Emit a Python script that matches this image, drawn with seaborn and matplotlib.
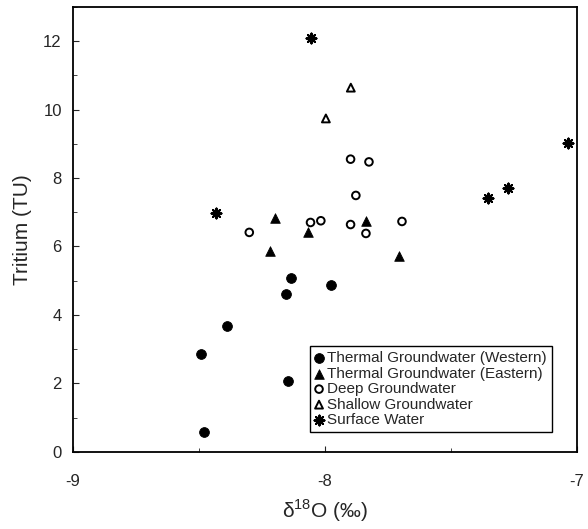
import matplotlib
matplotlib.use("Agg")
import matplotlib.pyplot as plt
from matplotlib.ticker import MultipleLocator
import seaborn as sns
import pandas as pd

# d18O (permil) and tritium (TU) for each water group
west_x = [-8.49, -8.48, -8.39, -8.156, -8.136, -8.148, -7.977]
west_y = [2.87, 0.58, 3.67, 4.60, 5.07, 2.06, 4.87]

east_x = [-8.196, -8.217, -8.066, -7.835, -7.706]
east_y = [6.82, 5.86, 6.41, 6.75, 5.73]

deep_x = [-8.30, -8.057, -8.016, -7.898, -7.837, -7.694, -7.877, -7.898, -7.825]
deep_y = [6.41, 6.70, 6.75, 6.64, 6.38, 6.73, 7.49, 8.55, 8.47]

shallow_x = [-7.897, -7.996]
shallow_y = [10.64, 9.74]

surface_x = [-8.434, -8.056, -7.352, -7.275, -7.036]
surface_y = [6.97, 12.08, 7.41, 7.70, 9.03]

groups = ["Thermal Groundwater (Western)", "Thermal Groundwater (Eastern)",
          "Deep Groundwater", "Shallow Groundwater", "Surface Water"]

frames = []
for name, xs, ys in zip(groups, [west_x, east_x, deep_x, shallow_x, surface_x],
                        [west_y, east_y, deep_y, shallow_y, surface_y]):
    frames.append(pd.DataFrame({"d18O": xs, "tritium": ys, "group": name}))
df = pd.concat(frames, ignore_index=True)

sns.set_style("ticks")
plt.rcParams["font.family"] = ["Liberation Sans", "DejaVu Sans"]
plt.rcParams["mathtext.fontset"] = "custom"
plt.rcParams["mathtext.rm"] = "Liberation Sans"
plt.rcParams["axes.unicode_minus"] = False

fig = plt.figure(figsize=(5.88, 5.29), dpi=100)
ax = fig.add_axes([0.124, 0.146, 0.857, 0.841])

styles = {
    groups[0]: dict(marker="o", s=50, color="black", edgecolor="black"),
    groups[1]: dict(marker="^", s=48, color="black", edgecolor="black"),
    groups[2]: dict(marker="o", s=30, facecolor="none", edgecolor="black", linewidth=1.4),
    groups[3]: dict(marker="^", s=32, facecolor="none", edgecolor="black", linewidth=1.4),
    groups[4]: dict(marker=(8, 2, 0), s=50, color="black", linewidth=1.5),
}
for name in groups:
    sns.scatterplot(data=df[df["group"] == name], x="d18O", y="tritium",
                    ax=ax, label=name, **styles[name])

ax.set_xlim(-9, -7)
ax.set_ylim(0, 13)
ax.xaxis.set_major_locator(MultipleLocator(1))
ax.xaxis.set_minor_locator(MultipleLocator(0.5))
ax.yaxis.set_major_locator(MultipleLocator(2))
ax.yaxis.set_minor_locator(MultipleLocator(1))
ax.tick_params(axis="both", which="major", direction="in", length=4, width=0.8,
               labelsize=12)
ax.tick_params(axis="y", which="major", pad=8)
ax.tick_params(axis="x", which="major", pad=16)
ax.tick_params(axis="both", which="minor", direction="in", length=3, width=0.6)
for sp in ax.spines.values():
    sp.set_linewidth(1.3)
    sp.set_color("black")

ax.set_xlabel("δ$^{\\mathregular{18}}$O (‰)", fontsize=15, labelpad=6)
ax.set_ylabel("Tritium (TU)", fontsize=15, labelpad=8)

leg = ax.legend(loc="lower right", bbox_to_anchor=(0.95, 0.045), fontsize=11,
                frameon=True, fancybox=False, edgecolor="black", framealpha=1,
                handlelength=0.6, handletextpad=0.25, labelspacing=0.1,
                borderpad=0.3, borderaxespad=0)
leg.get_frame().set_linewidth(1.0)

fig.savefig("out.png", dpi=100)
